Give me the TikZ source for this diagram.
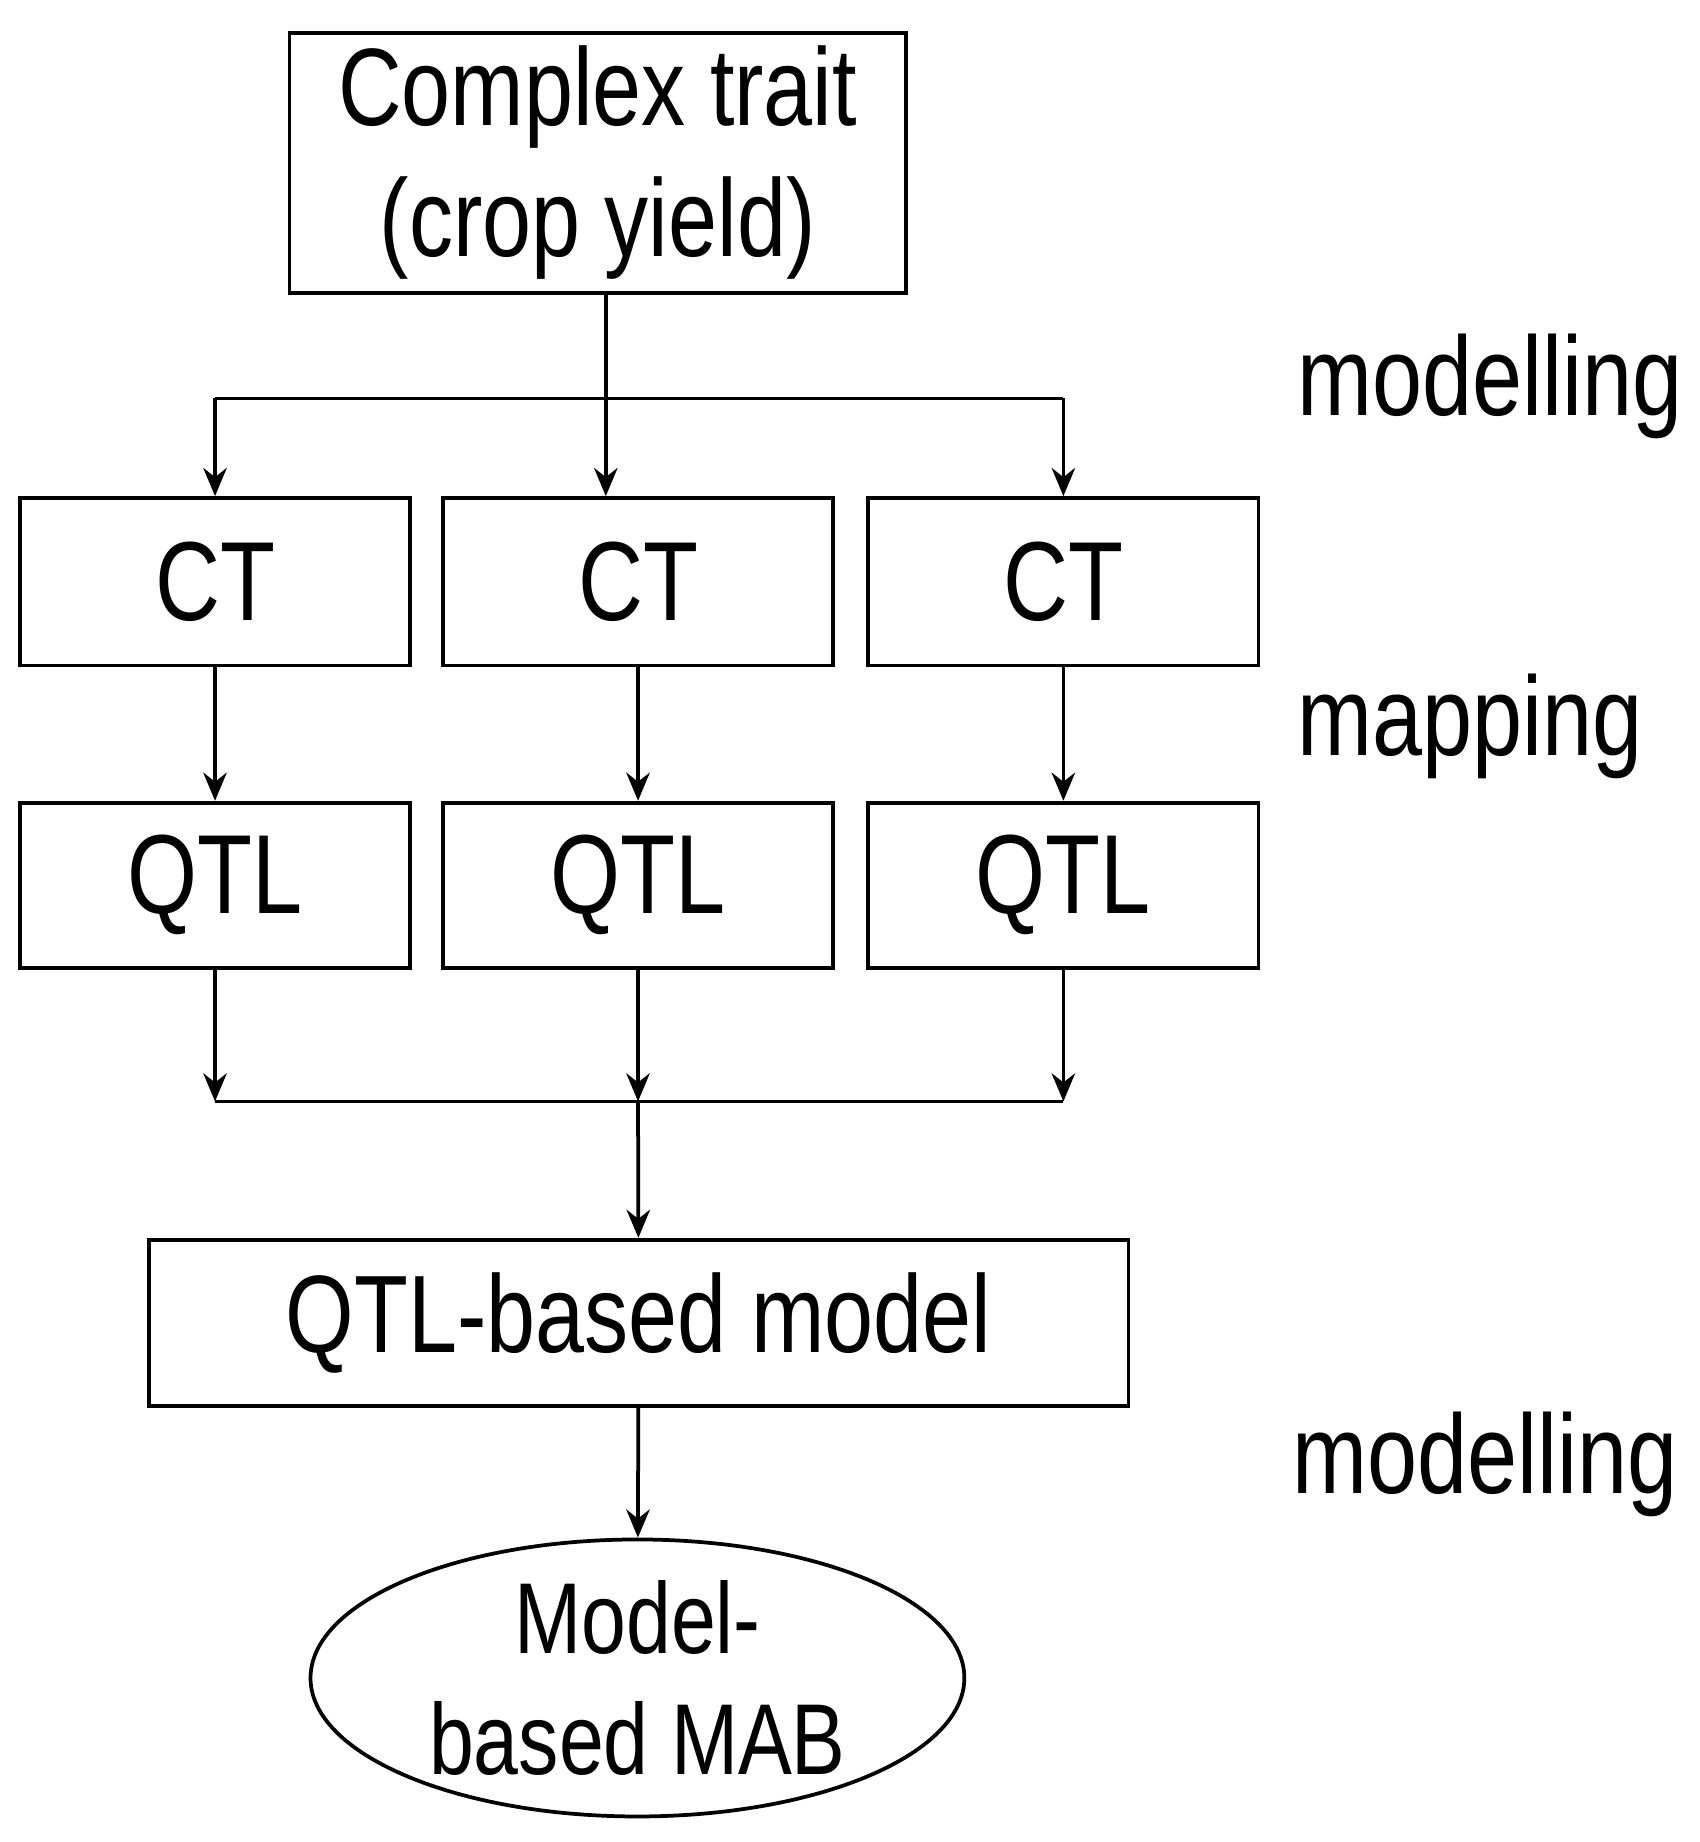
\documentclass[tikz,border=0pt]{standalone}
\usepackage{fontspec}
\setmainfont{Liberation Sans}[FakeStretch=0.8]
\usetikzlibrary{shapes.geometric,arrows.meta}
\begin{document}
\begin{tikzpicture}[x=0.5pt,y=-0.5pt,
  box/.style={draw,line width=1.6pt,inner sep=0pt,font=\fontsize{48}{54}\selectfont},
  lab/.style={font=\fontsize{48}{54}\selectfont,anchor=west},
  arr/.style={line width=1.6pt,-{Stealth[length=12pt,width=10pt]}},
  ln/.style={line width=1.6pt}]
\useasboundingbox (0,0) rectangle (1450,1572);
\node[box,minimum width=263pt,minimum height=111pt,align=center,font=\fontsize{47}{56}\selectfont] (top) at (510,139) {Complex trait\\(crop yield)};
\foreach \i/\x in {1/183.5,2/544.5,3/907.5}{
  \node[box,minimum width=166.5pt,minimum height=71.5pt] (ct\i) at (\x,496.5) {CT};
  \node[box,minimum width=166.5pt,minimum height=70.5pt] (q\i) at (\x,755.5) {QTL};
  \draw[arr] (ct\i) -- (q\i);
  \coordinate (j\i) at (\x,940);
  \draw[arr] (q\i) -- (j\i);
}
\coordinate (b1) at (183.5,340); \coordinate (b2) at (517,340); \coordinate (b3) at (907.5,340);
\draw[ln] (b1) -- (b3);
\draw[arr] (top.south -| b2) -- (b2 |- ct2.north);
\draw[arr] (b1) -- (ct1.north);
\draw[arr] (b3) -- (ct3.north);
\draw[ln] (j1) -- (j3);
\node[box,minimum width=418pt,minimum height=71pt,font=\fontsize{47}{54}\selectfont] (m) at (545,1129) {QTL-based model};
\node[draw,ellipse,line width=1.6pt,minimum width=279pt,minimum height=115pt,inner sep=0pt,align=center,font=\fontsize{43}{52}\selectfont] (e) at (544,1432) {Model-\\based MAB};
\draw[arr] (j2) -- (m);
\draw[arr] (m) -- (e);
\node[lab] (l1) at (1100,330) {modelling};
\node[lab] (l2) at (1100,620) {mapping};
\node[lab] (l3) at (1096,1250) {modelling};
\end{tikzpicture}
\end{document}
